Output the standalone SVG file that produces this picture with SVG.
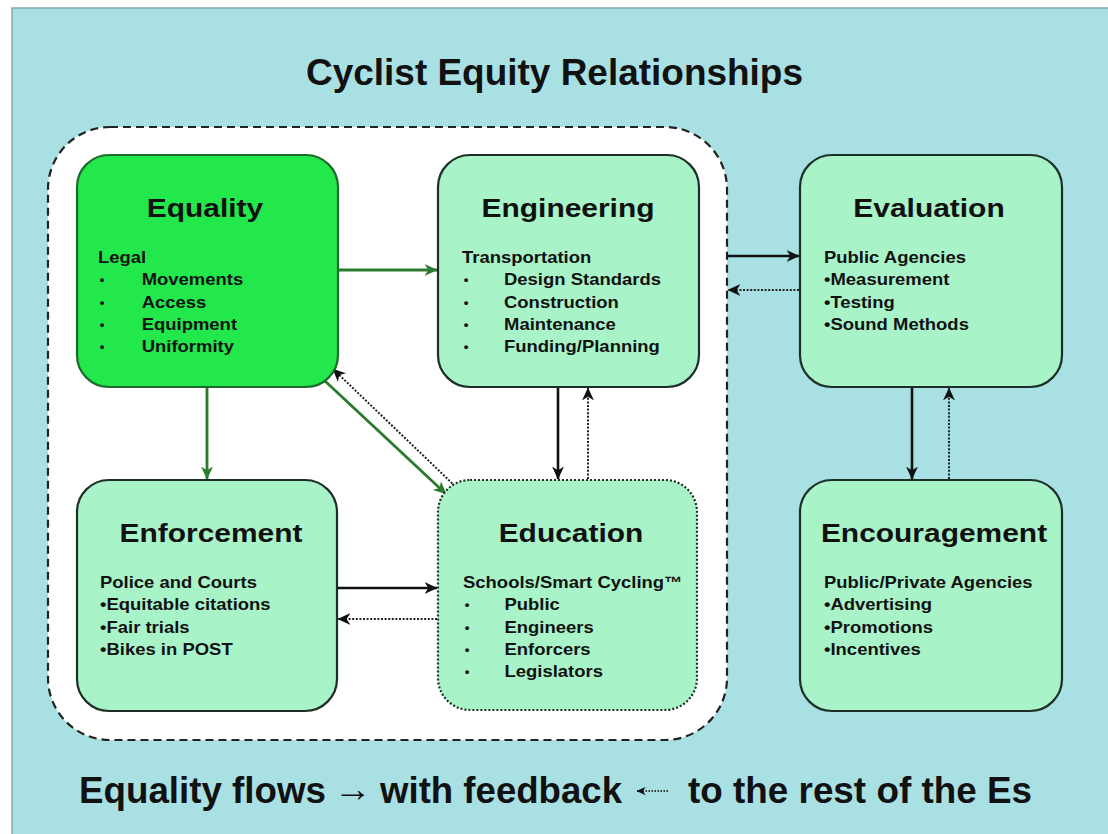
<svg xmlns="http://www.w3.org/2000/svg" width="1108" height="834" viewBox="0 0 1108 834">
  <style>
    .node { stroke: #1d2f27; stroke-width: 2.2; fill: #a8f3c8; }
    .eq { fill: #22e84c; stroke: #1e6a2c; }
    .dotted-node { stroke-dasharray: 2 2; }
    .title { font-family: "Liberation Sans", Arial, sans-serif; font-weight: bold; font-size: 26.5px; fill: #111; text-anchor: middle; }
    .body text { font-family: "Liberation Sans", Arial, sans-serif; font-weight: bold; font-size: 16.5px; fill: #111; }
    .body .dot { font-size: 12px; }
    .big { font-family: "Liberation Sans", Arial, sans-serif; font-weight: bold; font-size: 36px; fill: #111; }
    .flow { fill: none; stroke-width: 2.6; }
    .green { stroke: #2b7a2e; stroke-width: 2.8; marker-end: url(#headGreen); }
    .solid { stroke: #111; marker-end: url(#headBlack); }
    .back { stroke: #222; stroke-width: 2; stroke-dasharray: 2 1.6; marker-end: url(#headBlack); }
  </style>
  <defs>
    <marker id="headBlack" viewBox="0 0 12 12" refX="11.5" refY="6" markerWidth="13" markerHeight="13" orient="auto" markerUnits="userSpaceOnUse">
      <path d="M0,0.5 L12,6 L0,11.5 L3.5,6 z" fill="#111"/>
    </marker>
    <marker id="headGreen" viewBox="0 0 12 12" refX="11.5" refY="6" markerWidth="13" markerHeight="13" orient="auto" markerUnits="userSpaceOnUse">
      <path d="M0,0.5 L12,6 L0,11.5 L3.5,6 z" fill="#2b7a2e"/>
    </marker>
    <marker id="headSmall" viewBox="0 0 12 12" refX="11.5" refY="6" markerWidth="9" markerHeight="9" orient="auto" markerUnits="userSpaceOnUse">
      <path d="M0,0.5 L12,6 L0,11.5 L3.5,6 z" fill="#111"/>
    </marker>
  </defs>

  <!-- page and panel -->
  <rect x="0" y="0" width="1108" height="834" fill="#ffffff"/>
  <rect x="12" y="8" width="1100" height="830" fill="#a9e0e4" stroke="#7fa9ad" stroke-width="1.5"/>

  <text class="big" x="306" y="85" textLength="497" lengthAdjust="spacingAndGlyphs">Cyclist Equity Relationships</text>

  <!-- grouping of the first four Es -->
  <rect x="48" y="127" width="679" height="613" rx="62" fill="#ffffff" stroke="#222" stroke-width="2.2" stroke-dasharray="8 5"/>

  <g id="connectors">
    <path class="flow green" d="M338,270 L437,270"/>
    <path class="flow green" d="M207,387 L207,479"/>
    <path class="flow green" d="M325,381 L446,494"/>
    <path class="flow back" d="M455,486 L333,369"/>
    <path class="flow solid" d="M558,388 L558,479"/>
    <path class="flow back" d="M588,479 L588,388"/>
    <path class="flow solid" d="M727,256 L799,256"/>
    <path class="flow back" d="M799,290 L728,290"/>
    <path class="flow solid" d="M912,388 L912,479"/>
    <path class="flow back" d="M949,479 L949,388"/>
    <path class="flow solid" d="M337,588 L437,588"/>
    <path class="flow back" d="M437,619 L338,619"/>
  </g>

  <g id="equality">
    <rect class="node eq" x="77" y="155" width="261" height="232" rx="32"/>
    <text class="title" transform="translate(205,217) scale(1.13,1)">Equality</text>
    <g class="body" transform="translate(98,263) scale(1.12,1)">
      <text x="0" y="0">Legal</text>
      <text class="dot" x="1.5" y="21.3">•</text><text x="39" y="22.3">Movements</text>
      <text class="dot" x="1.5" y="43.6">•</text><text x="39" y="44.6">Access</text>
      <text class="dot" x="1.5" y="65.9">•</text><text x="39" y="66.9">Equipment</text>
      <text class="dot" x="1.5" y="88.2">•</text><text x="39" y="89.2">Uniformity</text>
    </g>
  </g>

  <g id="engineering">
    <rect class="node" x="438" y="155" width="261" height="232" rx="32"/>
    <text class="title" transform="translate(568,217) scale(1.13,1)">Engineering</text>
    <g class="body" transform="translate(462,263) scale(1.12,1)">
      <text x="0" y="0">Transportation</text>
      <text class="dot" x="1.5" y="21.3">•</text><text x="37.5" y="22.3">Design Standards</text>
      <text class="dot" x="1.5" y="43.6">•</text><text x="37.5" y="44.6">Construction</text>
      <text class="dot" x="1.5" y="65.9">•</text><text x="37.5" y="66.9">Maintenance</text>
      <text class="dot" x="1.5" y="88.2">•</text><text x="37.5" y="89.2">Funding/Planning</text>
    </g>
  </g>

  <g id="evaluation">
    <rect class="node" x="800" y="155" width="262" height="232" rx="32"/>
    <text class="title" transform="translate(929,217) scale(1.13,1)">Evaluation</text>
    <g class="body" transform="translate(824,263) scale(1.12,1)">
      <text x="0" y="0">Public Agencies</text>
      <text x="0" y="22.3">•Measurement</text>
      <text x="0" y="44.6">•Testing</text>
      <text x="0" y="66.9">•Sound Methods</text>
    </g>
  </g>

  <g id="enforcement">
    <rect class="node" x="77" y="480" width="260" height="231" rx="32"/>
    <text class="title" transform="translate(211,542) scale(1.13,1)">Enforcement</text>
    <g class="body" transform="translate(100,588) scale(1.12,1)">
      <text x="0" y="0">Police and Courts</text>
      <text x="0" y="22.3">•Equitable citations</text>
      <text x="0" y="44.6">•Fair trials</text>
      <text x="0" y="66.9">•Bikes in POST</text>
    </g>
  </g>

  <g id="education">
    <rect class="node dotted-node" x="438" y="480" width="259" height="230" rx="32"/>
    <text class="title" transform="translate(571,542) scale(1.13,1)">Education</text>
    <g class="body" transform="translate(463,588) scale(1.12,1)">
      <text x="0" y="0">Schools/Smart Cycling™</text>
      <text class="dot" x="1.5" y="21.3">•</text><text x="37" y="22.3">Public</text>
      <text class="dot" x="1.5" y="43.6">•</text><text x="37" y="44.6">Engineers</text>
      <text class="dot" x="1.5" y="65.9">•</text><text x="37" y="66.9">Enforcers</text>
      <text class="dot" x="1.5" y="88.2">•</text><text x="37" y="89.2">Legislators</text>
    </g>
  </g>

  <g id="encouragement">
    <rect class="node" x="800" y="480" width="262" height="231" rx="32"/>
    <text class="title" transform="translate(934,542) scale(1.13,1)">Encouragement</text>
    <g class="body" transform="translate(824,588) scale(1.12,1)">
      <text x="0" y="0">Public/Private Agencies</text>
      <text x="0" y="22.3">•Advertising</text>
      <text x="0" y="44.6">•Promotions</text>
      <text x="0" y="66.9">•Incentives</text>
    </g>
  </g>

  <!-- legend line -->
  <g id="legend">
    <text class="big" x="79" y="803" textLength="247" lengthAdjust="spacingAndGlyphs">Equality flows</text>
    <text class="big" x="334" y="801" font-size="32" textLength="38" lengthAdjust="spacingAndGlyphs">→</text>
    <text class="big" x="380" y="803" textLength="242" lengthAdjust="spacingAndGlyphs">with feedback</text>
    <path d="M668,791 L637,791" fill="none" stroke="#333" stroke-width="2" stroke-dasharray="1.5 1.5" marker-end="url(#headSmall)"/>
    <text class="big" x="688" y="803" textLength="344" lengthAdjust="spacingAndGlyphs">to the rest of the Es</text>
  </g>
</svg>
